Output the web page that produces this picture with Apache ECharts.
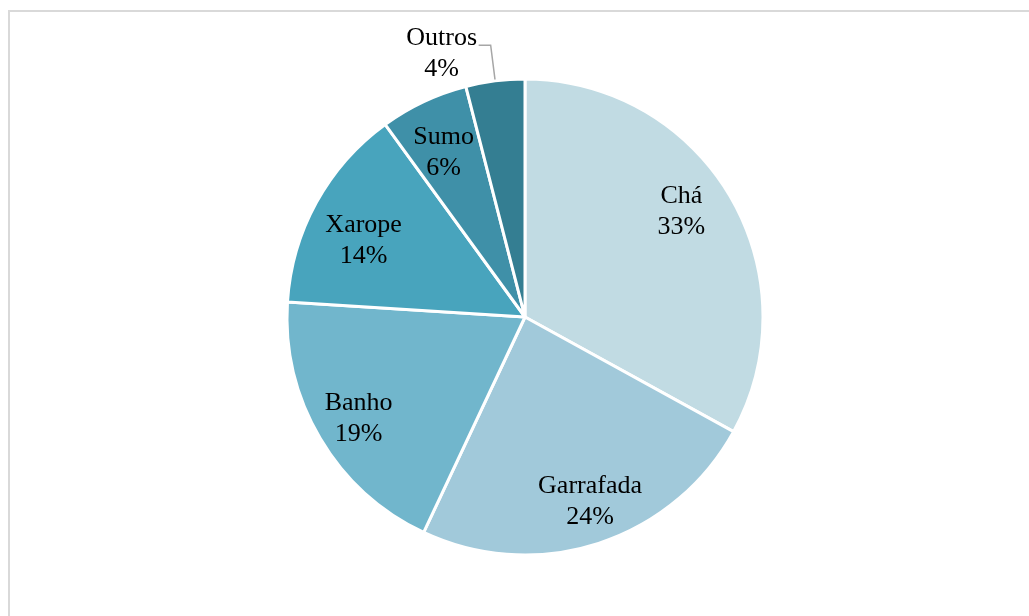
<!DOCTYPE html>
<html>
<head>
<meta charset="utf-8">
<script src="https://cdn.jsdelivr.net/npm/echarts@6/dist/echarts.min.js"></script>
<style>
  html, body { margin: 0; padding: 0; background: #ffffff; }
  #frame { position: absolute; left: 8px; top: 10px; width: 1040px; height: 640px;
           border: 2px solid #d9d9d9; box-sizing: border-box; }
  #chart { width: 1029px; height: 616px; position: absolute; left: 0; top: 0; }
</style>
</head>
<body>
<div id="frame"></div>
<div id="chart"></div>
<script>
// Forms of preparation and their share of use (%)
const categories = ['Chá', 'Garrafada', 'Banho', 'Xarope', 'Sumo', 'Outros'];
const shares = [33, 24, 19, 14, 6, 4];
const colors = ['#c1dbe3', '#a1c9da', '#71b6cc', '#48a4bd', '#3f90a8', '#347e92'];

const FONT = '"Liberation Serif", "Times New Roman", serif';
const FONT_SIZE = 26;
const CENTER = [525, 317];
const R = 238;

// Small nudges for the inner labels (pixels), keyed by slice name
const labelNudge = {
  'Chá': [-8, -8],
  'Garrafada': [6, 3],
  'Banho': [-2, 4],
  'Xarope': [6, 16],
  'Sumo': [0, 8]
};

const data = categories.map((name, i) => ({
  name,
  value: shares[i],
  itemStyle: { color: colors[i] }
}));

// Main wedges; only the smallest slice gets an outside label with a leader line
const mainData = data.map(d => {
  const isOutside = d.name === 'Outros';
  return Object.assign({}, d, {
    label: isOutside ? {
      show: true,
      position: 'outside',
      distanceToLabelLine: 0,
      padding: [18, 0, 0, 0],
      formatter: '{t|{b}}\n{t|{d}%}',
      rich: { t: { fontFamily: FONT, fontSize: FONT_SIZE, color: '#000', width: 74, align: 'center', lineHeight: 31 } }
    } : { show: false },
    labelLine: isOutside ? { show: true, length: 36, length2: 12, lineStyle: { color: '#a6a6a6', width: 1.5 } } : { show: false }
  });
});

// Transparent ring used only to place the inner labels further out from the centre
const labelData = data.map(d => ({
  name: d.name,
  value: d.value,
  itemStyle: { color: 'rgba(0,0,0,0)' },
  label: { show: d.name !== 'Outros', offset: labelNudge[d.name] || [0, 0] }
}));

const chart = echarts.init(document.getElementById('chart'), null, { renderer: 'canvas' });
chart.setOption({
  animation: false,
  series: [
    {
      type: 'pie',
      center: CENTER,
      radius: [0, R],
      startAngle: 90,
      clockwise: true,
      avoidLabelOverlap: false,
      itemStyle: { borderColor: '#ffffff', borderWidth: 3 },
      emphasis: { disabled: true },
      data: mainData
    },
    {
      type: 'pie',
      center: CENTER,
      radius: [138, R],
      startAngle: 90,
      clockwise: true,
      silent: true,
      avoidLabelOverlap: false,
      itemStyle: { borderWidth: 0 },
      label: {
        position: 'inside',
        formatter: '{b}\n{d}%',
        fontFamily: FONT,
        fontSize: FONT_SIZE,
        lineHeight: 31,
        color: '#000'
      },
      labelLine: { show: false },
      data: labelData
    }
  ]
});
</script>
</body>
</html>
